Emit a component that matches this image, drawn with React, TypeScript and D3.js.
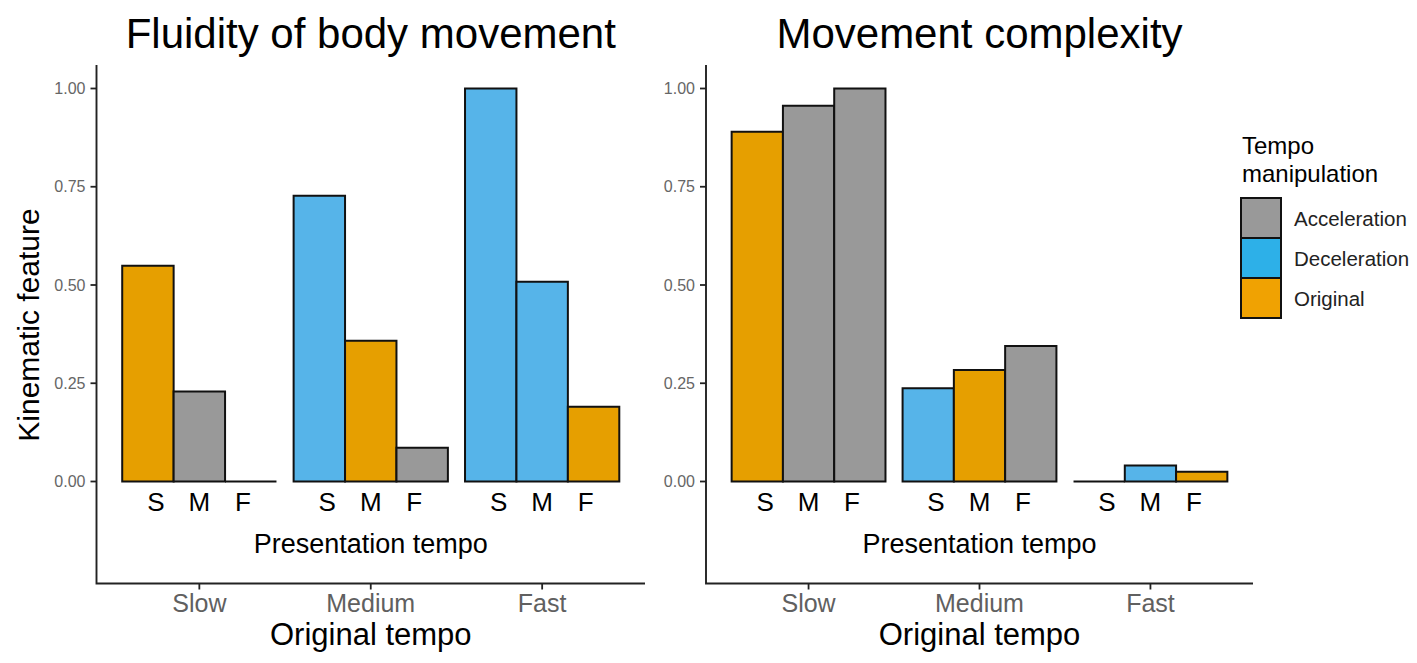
import * as d3 from 'd3';

// outer x categories, inner x categories
const originalTempos = ['Slow', 'Medium', 'Fast'];
const presentationTempos = ['S', 'M', 'F'];
const manipulations = ['Acceleration', 'Deceleration', 'Original'];

// values per original tempo group, in S / M / F order
const fluidityValues = [
  [0.549, 0.229, 0],
  [0.727, 0.358, 0.086],
  [1.0, 0.508, 0.19],
];
const complexityValues = [
  [0.89, 0.956, 1.0],
  [0.237, 0.284, 0.345],
  [0, 0.041, 0.025],
];
// manipulation type per bar (same layout for both panels)
const barTypes = [
  ['Original', 'Acceleration', 'Acceleration'],
  ['Deceleration', 'Original', 'Acceleration'],
  ['Deceleration', 'Deceleration', 'Original'],
];
const yTicks = [0, 0.25, 0.5, 0.75, 1];

const barColor: Record<string, string> = {
  Acceleration: '#999999',
  Deceleration: '#56B4E9',
  Original: '#E69F00',
};
const keyColor: Record<string, string> = {
  Acceleration: '#999999',
  Deceleration: '#2DB0E8',
  Original: '#F0A202',
};

const FONT = 'Liberation Sans, Arial, Helvetica, sans-serif';
const W = 1417;
const H = 663;

const y = d3.scaleLinear().domain([0, 1]).range([481.5, 88.5]);
const axisTop = 65;
const axisBottom = 583.5;

type PanelProps = {
  title: string;
  values: number[][];
  x0: number;
  x1: number;
  showYLabel?: boolean;
};

function Panel({ title, values, x0, x1, showYLabel }: PanelProps) {
  const outer = d3
    .scaleBand<string>()
    .domain(originalTempos)
    .range([x0, x1])
    .paddingInner(0.1)
    .paddingOuter(0.15);
  const inner = d3
    .scaleBand<string>()
    .domain(presentationTempos)
    .range([0, outer.bandwidth()]);
  const mid = (x0 + x1) / 2;

  return (
    <g fontFamily={FONT}>
      <text x={mid} y={48} textAnchor="middle" fontSize={42} fill="#000">
        {title}
      </text>

      {originalTempos.map((g, gi) => {
        const gx = outer(g) ?? 0;
        const gc = gx + outer.bandwidth() / 2;
        return (
          <g key={g}>
            {presentationTempos.map((p, pi) => {
              const bx = gx + (inner(p) ?? 0);
              const bw = inner.bandwidth();
              const v = values[gi][pi];
              const d = `M${bx},${y(0)}H${bx + bw}V${y(v)}H${bx}Z`;
              return (
                <path
                  key={p}
                  d={d}
                  fill={barColor[barTypes[gi][pi]]}
                  stroke="#111"
                  strokeWidth={2}
                  strokeLinejoin="miter"
                />
              );
            })}
            {presentationTempos.map((p, pi) => (
              <text
                key={'l' + p}
                x={gc + (pi - 1) * 43.5}
                y={511}
                textAnchor="middle"
                fontSize={26}
                fill="#000"
              >
                {p}
              </text>
            ))}
            <line x1={gc} x2={gc} y1={axisBottom} y2={axisBottom + 6} stroke="#222" strokeWidth={1.8} />
            <text x={gc} y={612} textAnchor="middle" fontSize={25} fill="#606060">
              {g}
            </text>
          </g>
        );
      })}

      <text x={mid} y={553} textAnchor="middle" fontSize={27} fill="#000">
        Presentation tempo
      </text>

      {/* axes */}
      <path
        d={`M${x0},${axisTop}V${axisBottom}H${x1}`}
        fill="none"
        stroke="#222"
        strokeWidth={1.9}
      />
      {yTicks.map((t) => (
        <g key={t}>
          <line x1={x0 - 6} x2={x0} y1={y(t)} y2={y(t)} stroke="#222" strokeWidth={1.8} />
          <text
            x={x0 - 11}
            y={y(t) + 5.5}
            textAnchor="end"
            fontSize={16}
            fill="#666"
          >
            {t.toFixed(2)}
          </text>
        </g>
      ))}

      <text x={mid} y={645} textAnchor="middle" fontSize={31} fill="#000">
        Original tempo
      </text>

      {showYLabel && (
        <text
          transform={`translate(39,${325}) rotate(-90)`}
          textAnchor="middle"
          fontSize={30}
          fill="#000"
        >
          Kinematic feature
        </text>
      )}
    </g>
  );
}

function Legend() {
  const keys = d3.scaleBand<string>().domain(manipulations).range([198, 318]);
  return (
    <g fontFamily={FONT}>
      <text x={1242} y={154} fontSize={24} fill="#000">
        Tempo
      </text>
      <text x={1242} y={181.5} fontSize={24} fill="#000">
        manipulation
      </text>
      {manipulations.map((m) => {
        const ky = keys(m) ?? 0;
        return (
          <g key={m}>
            <rect
              x={1241}
              y={ky}
              width={40}
              height={keys.bandwidth()}
              fill={keyColor[m]}
              stroke="#111"
              strokeWidth={2}
            />
            <text x={1294} y={ky + keys.bandwidth() / 2 + 8} fontSize={20.5} fill="#222">
              {m}
            </text>
          </g>
        );
      })}
    </g>
  );
}

export default function App() {
  return (
    <svg
      width={W}
      height={H}
      viewBox={`0 0 ${W} ${H}`}
      style={{ position: 'absolute', left: 0, top: 0, background: '#fff' }}
    >
      <rect x={0} y={0} width={W} height={H} fill="#fff" />
      <Panel title="Fluidity of body movement" values={fluidityValues} x0={96.5} x1={645} showYLabel />
      <Panel title="Movement complexity" values={complexityValues} x0={706} x1={1253} />
      <Legend />
    </svg>
  );
}
